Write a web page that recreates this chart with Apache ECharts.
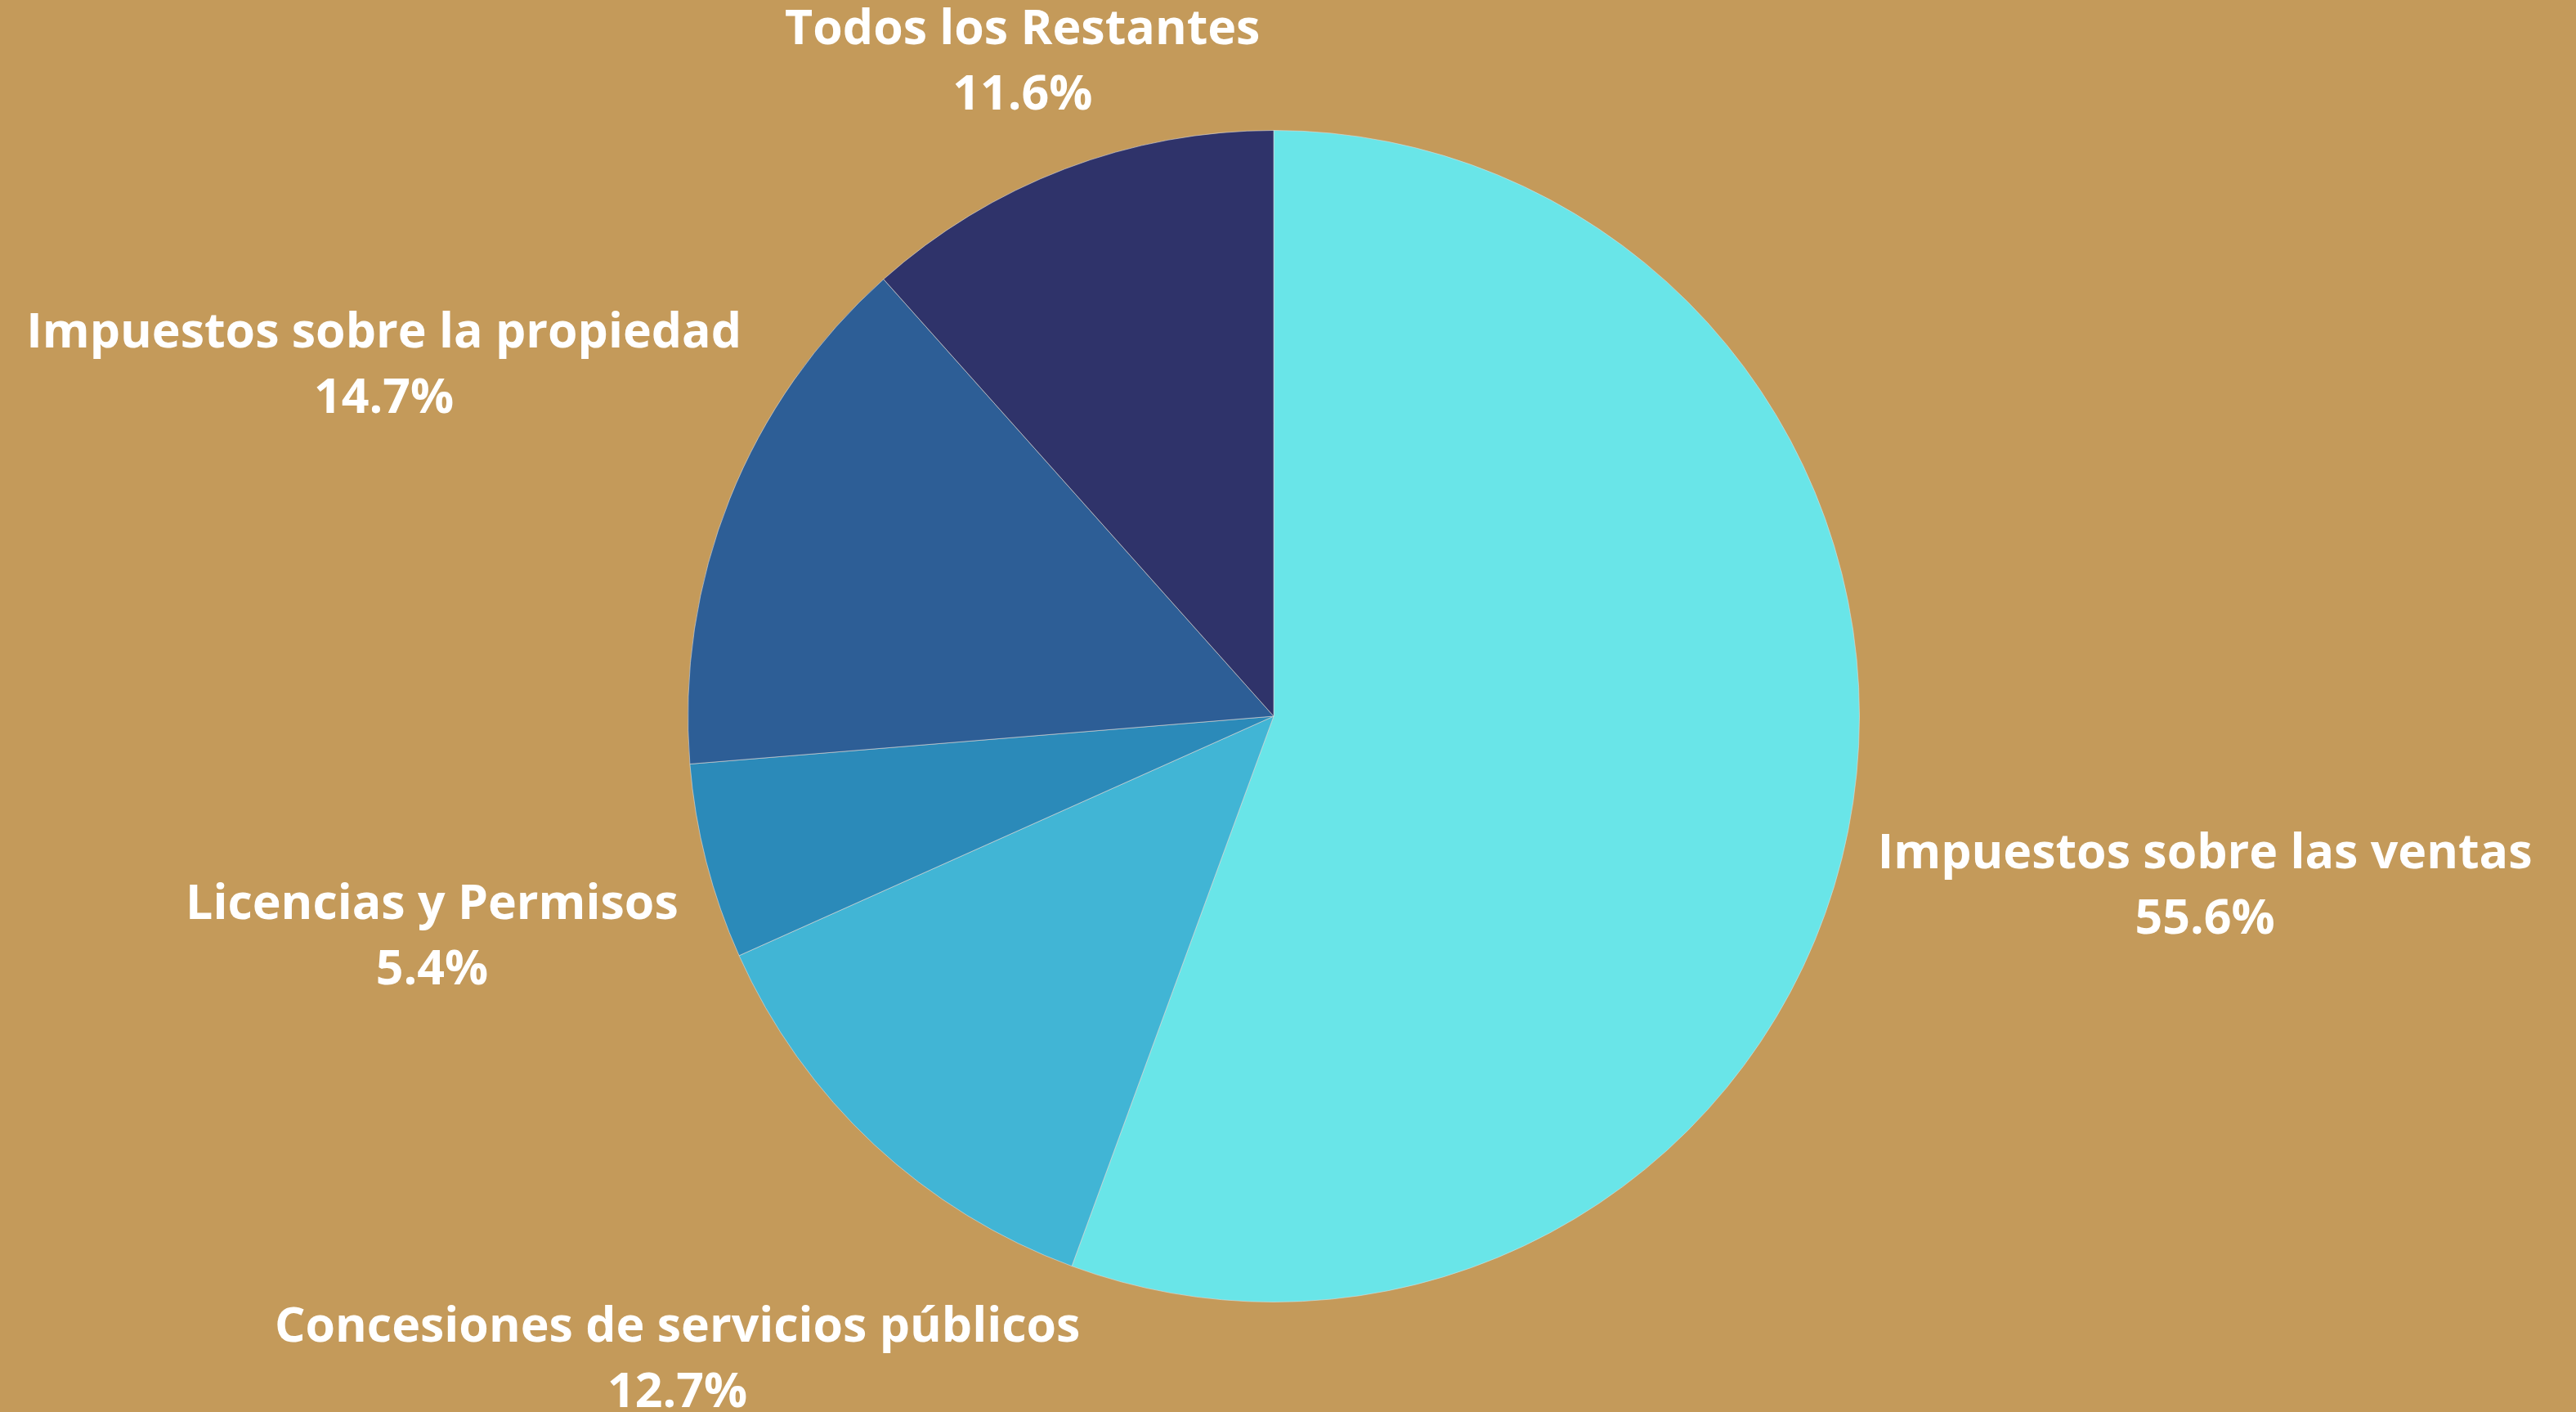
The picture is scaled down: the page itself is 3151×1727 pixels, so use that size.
<!DOCTYPE html>
<html>
<head>
<meta charset="utf-8">
<script src="https://cdn.jsdelivr.net/npm/echarts@6/dist/echarts.min.js"></script>
<style>
  html, body { margin: 0; padding: 0; background: #C49A5A; }
  #chart { width: 3151px; height: 1727px; }
</style>
</head>
<body>
<div id="chart"></div>
<script>
// ---- data ----
const categories = [
  'Impuestos sobre las ventas',
  'Concesiones de servicios públicos',
  'Licencias y Permisos',
  'Impuestos sobre la propiedad',
  'Todos los Restantes'
];
const values = [55.6, 12.7, 5.4, 14.7, 11.6];

// ---- styling ----
const sliceColors = ['#69E5E8', '#41B5D5', '#2B8AB9', '#2D5E96', '#2F336A'];
const labelRadius = [1157, 1069, 1063, 1172, 862]; // distance of label centre from pie centre (px)
const labelDy = 7; // font metric correction
const CX = 1558, CY = 876, R = 716.5;

const total = values.reduce((a, b) => a + b, 0);
function midAngle(i) {
  let cum = 0;
  for (let k = 0; k < i; k++) cum += values[k];
  const frac = (cum + values[i] / 2) / total;
  return (90 - 360 * frac) * Math.PI / 180;
}

const chart = echarts.init(document.getElementById('chart'), null, { renderer: 'canvas' });
chart.setOption({
  backgroundColor: '#C49A5A',
  animation: false,
  series: [{
    type: 'pie',
    center: [CX, CY],
    radius: [0, R],
    startAngle: 90,
    clockwise: true,
    avoidLabelOverlap: false,
    data: categories.map((c, i) => ({
      name: c,
      value: values[i],
      itemStyle: { color: sliceColors[i] }
    })),
    itemStyle: { borderColor: 'rgba(220,220,220,0.6)', borderWidth: 1 },
    label: {
      show: true,
      position: 'outside',
      formatter: p => p.name + '\n' + p.value.toFixed(1) + '%',
      color: '#ffffff',
      fontFamily: 'Open Sans',
      fontWeight: 'bold',
      fontSize: 59,
      lineHeight: 80,
      align: 'center'
    },
    labelLine: { show: false },
    labelLayout: function (params) {
      const i = params.dataIndex;
      const a = midAngle(i);
      return {
        x: CX + Math.cos(a) * labelRadius[i],
        y: CY - Math.sin(a) * labelRadius[i] + labelDy,
        align: 'center',
        verticalAlign: 'middle'
      };
    }
  }]
});
</script>
</body>
</html>
